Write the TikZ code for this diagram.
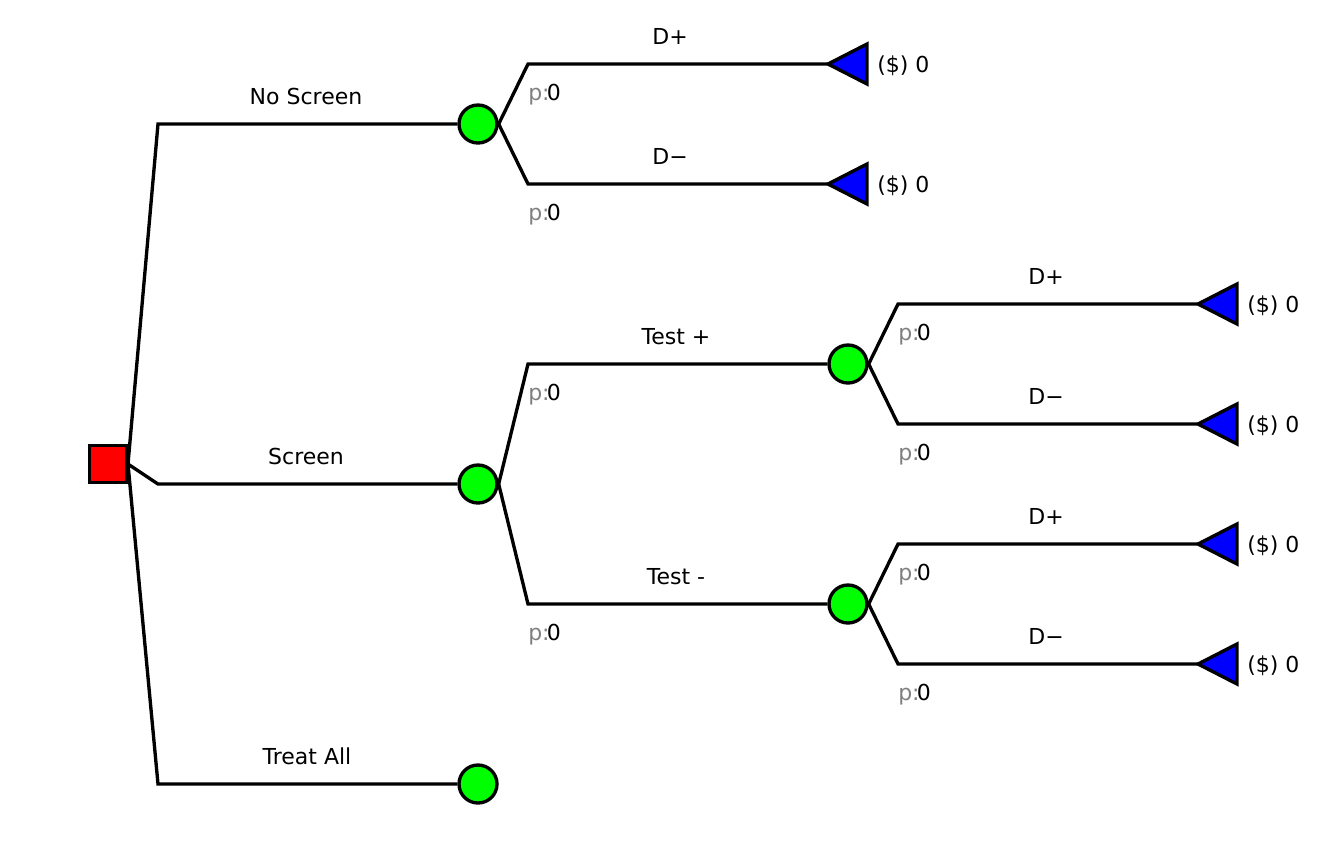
\documentclass[tikz,border=0pt]{standalone}
\usepackage{fontspec}
\setmainfont{DejaVu Sans}
\begin{document}
\begin{tikzpicture}[x=0.75pt,y=-0.75pt,
  edge/.style={line width=2.5pt,line join=miter},
  chance/.style={circle,draw=black,fill=green,line width=2.5pt,minimum size=28.5pt,inner sep=0pt},
  decision/.style={rectangle,draw=black,fill=red,line width=2.5pt,minimum size=28pt,inner sep=0pt},
  term/.style={draw=black,fill=blue,line width=2.5pt,line join=miter},
  lbl/.style={font=\fontsize{16.5}{19}\selectfont,anchor=base,inner sep=0pt},
  plbl/.style={font=\fontsize{16.5}{19}\selectfont,anchor=base west,inner sep=0pt},
  pay/.style={font=\fontsize{16.5}{19}\selectfont,anchor=base west,inner sep=0pt}]
\useasboundingbox (0,0) rectangle (1338,858);
% nodes
\node[decision] (root) at (108,464) {};
\node[chance] (ns) at (478,124) {};
\node[chance] (sc) at (478,484) {};
\node[chance] (ta) at (478,784) {};
\node[chance] (tp) at (848,364) {};
\node[chance] (tm) at (848,604) {};
% bend coordinates
\coordinate (r0) at (128,464);
\coordinate (b1) at (158,124);
\coordinate (b2) at (158,484);
\coordinate (b3) at (158,784);
\coordinate (n1) at (528,64);
\coordinate (n2) at (528,184);
\coordinate (s1) at (528,364);
\coordinate (s2) at (528,604);
\coordinate (p1) at (898,304);
\coordinate (p2) at (898,424);
\coordinate (m1) at (898,544);
\coordinate (m2) at (898,664);
% terminal tips
\coordinate (t1) at (828,64);
\coordinate (t2) at (828,184);
\coordinate (t3) at (1198,304);
\coordinate (t4) at (1198,424);
\coordinate (t5) at (1198,544);
\coordinate (t6) at (1198,664);
% edges
\draw[edge] (r0) -- (b1) -- (ns.west);
\draw[edge] (r0) -- (b2) -- (sc.west);
\draw[edge] (r0) -- (b3) -- (ta.west);
\draw[edge] (ns.east) -- (n1) -- (t1);
\draw[edge] (ns.east) -- (n2) -- (t2);
\draw[edge] (sc.east) -- (s1) -- (tp.west);
\draw[edge] (sc.east) -- (s2) -- (tm.west);
\draw[edge] (tp.east) -- (p1) -- (t3);
\draw[edge] (tp.east) -- (p2) -- (t4);
\draw[edge] (tm.east) -- (m1) -- (t5);
\draw[edge] (tm.east) -- (m2) -- (t6);
% terminals
\foreach \t in {t1,t2,t3,t4,t5,t6}{
  \draw[term] (\t) -- ++(39,-20) -- ++(0,40) -- cycle;
}
% branch labels
\node[lbl] (lns) at (306,104) {No Screen};
\node[lbl] (lsc) at (306,464) {Screen};
\node[lbl] (lta) at (307,764) {Treat All};
\node[lbl] (ltp) at (676,344) {Test +};
\node[lbl] (ltm) at (676,584) {Test -};
\node[lbl] (ld1) at (670,44) {D+};
\node[lbl] (ld2) at (670,164) {D−};
\node[lbl] (ld3) at (1046,284) {D+};
\node[lbl] (ld4) at (1046,404) {D−};
\node[lbl] (ld5) at (1046,524) {D+};
\node[lbl] (ld6) at (1046,644) {D−};
% probabilities
\foreach \n/\x/\y in {q1/528/100,q2/528/220,q3/528/400,q4/528/640,q5/898/340,q6/898/460,q7/898/580,q8/898/700}{
  \node[plbl] (\n) at (\x,\y) {\textcolor[gray]{0.5}{p:}\kern-2pt 0};
}
% payoffs
\foreach \n/\x/\y in {v1/877/72,v2/877/192,v3/1247/312,v4/1247/432,v5/1247/552,v6/1247/672}{
  \node[pay] (\n) at (\x,\y) {(\$) 0};
}
\end{tikzpicture}
\end{document}
